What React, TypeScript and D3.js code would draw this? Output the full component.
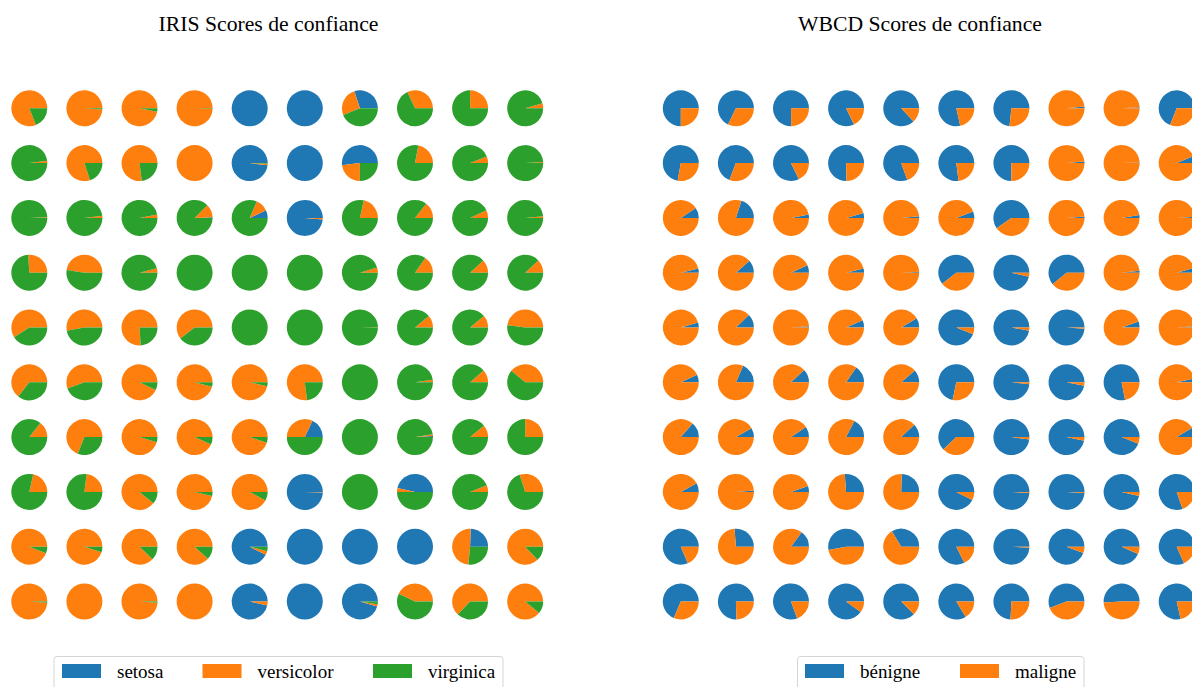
import React from 'react';
import { pie, arc, scaleLinear, scaleOrdinal, range } from 'd3';

const IRIS_CLASSES = ['setosa', 'versicolor', 'virginica'];
const WBCD_CLASSES = ['bénigne', 'maligne'];
const PALETTE = ['#1f77b4', '#ff7f0e', '#2ca02c'];

// confidence triplets [setosa, versicolor, virginica], one row per line of the grid
const irisScores: number[][][] = [
  [[0, 0.81, 0.19], [0, 0.99, 0.01], [0, 0.97, 0.03], [0, 0.995, 0.005], [1, 0, 0], [1, 0, 0], [0.3, 0.26, 0.44], [0, 0.32, 0.68], [0, 0.25, 0.75], [0, 0.045, 0.955]],
  [[0, 0.02, 0.98], [0, 0.8, 0.2], [0, 0.77, 0.23], [0, 1, 0], [0.98, 0.015, 0.005], [1, 0, 0], [0.52, 0.23, 0.25], [0, 0.22, 0.78], [0, 0.06, 0.94], [0, 0.01, 0.99]],
  [[0, 0.005, 0.995], [0, 0.02, 0.98], [0, 0.03, 0.97], [0.005, 0.12, 0.875], [0.07, 0.115, 0.815], [0.985, 0.015, 0], [0, 0.215, 0.785], [0, 0.143, 0.857], [0, 0.07, 0.93], [0, 0.015, 0.985]],
  [[0, 0.26, 0.74], [0, 0.475, 0.525], [0, 0.04, 0.96], [0, 0, 1], [0, 0, 1], [0, 0, 1], [0, 0.047, 0.953], [0, 0.153, 0.847], [0, 0.12, 0.88], [0, 0.12, 0.88]],
  [[0, 0.59, 0.41], [0, 0.53, 0.47], [0, 0.76, 0.24], [0, 0.605, 0.395], [0, 0, 1], [0, 0, 1], [0, 0.005, 0.995], [0, 0.11, 0.89], [0, 0.11, 0.89], [0, 0.48, 0.52]],
  [[0, 0.645, 0.355], [0, 0.555, 0.445], [0, 0.93, 0.07], [0, 0.96, 0.04], [0, 0.965, 0.035], [0, 0.77, 0.23], [0, 0, 1], [0.003, 0.02, 0.977], [0, 0.115, 0.885], [0, 0.39, 0.61]],
  [[0, 0.145, 0.855], [0, 0.69, 0.31], [0, 0.953, 0.047], [0, 0.933, 0.067], [0, 0.95, 0.05], [0.18, 0.32, 0.5], [0, 0, 1], [0.01, 0.015, 0.975], [0, 0.11, 0.89], [0, 0.25, 0.75]],
  [[0, 0.215, 0.785], [0, 0.23, 0.77], [0, 0.89, 0.11], [0, 0.964, 0.036], [0, 0.92, 0.08], [0.995, 0.005, 0], [0, 0, 1], [0.465, 0.035, 0.5], [0, 0.06, 0.94], [0, 0.3, 0.7]],
  [[0, 0.94, 0.06], [0, 0.95, 0.05], [0, 0.878, 0.122], [0, 0.883, 0.117], [0.925, 0.035, 0.04], [1, 0, 0], [1, 0, 0], [1, 0, 0], [0.245, 0.49, 0.265], [0, 0.87, 0.13]],
  [[0, 0.99, 0.01], [0, 1, 0], [0, 0.99, 0.01], [0, 1, 0], [0.965, 0.035, 0], [1, 0, 0], [0.955, 0.02, 0.025], [0, 0.43, 0.57], [0, 0.63, 0.37], [0, 0.89, 0.11]],
];

// benign score per sample (malign = 1 - benign)
const wbcdBenign: number[][] = [
  [0.75, 0.678, 0.752, 0.822, 0.87, 0.785, 0.733, 0.015, 0.01, 0.69],
  [0.722, 0.692, 0.822, 0.753, 0.805, 0.77, 0.75, 0.015, 0.005, 0.063],
  [0.094, 0.2, 0.03, 0.044, 0.015, 0.058, 0.597, 0.012, 0.025, 0.01],
  [0.038, 0.115, 0.067, 0.038, 0.008, 0.606, 0.964, 0.61, 0.018, 0.042],
  [0.045, 0.122, 0.012, 0.065, 0.085, 0.94, 0.972, 0.99, 0.053, 0.01],
  [0.07, 0.183, 0.12, 0.155, 0.114, 0.717, 0.982, 0.97, 0.781, 0.035],
  [0.136, 0.082, 0.094, 0.174, 0.12, 0.622, 0.979, 0.967, 0.939, 0.086],
  [0.079, 0.012, 0.053, 0.262, 0.245, 0.925, 0.99, 0.99, 0.964, 0.803],
  [0.814, 0.262, 0.15, 0.53, 0.337, 0.824, 0.99, 0.942, 0.933, 0.817],
  [0.686, 0.755, 0.806, 0.9, 0.875, 0.837, 0.742, 0.558, 0.508, 0.785],
];

const W = 1192;
const H = 687;
const R = 18;
const FONT = '"Liberation Serif", "Times New Roman", serif';

// matplotlib pies start at 3 o'clock and run counter-clockwise
const pieGen = pie<number>()
  .sort(null)
  .value((d) => d)
  .startAngle(Math.PI / 2)
  .endAngle(Math.PI / 2 - 2 * Math.PI);
const arcGen = arc<any>().innerRadius(0).outerRadius(R);

const color = scaleOrdinal<number, string>().domain([0, 1, 2]).range(PALETTE);
const yRow = scaleLinear().domain([0, 9]).range([108.3, 601.5]);

interface PanelProps {
  title: string;
  titleX: number;
  x0: number;
  rows: number[][][];
  classes: string[];
  legend: { left: number; width: number; gap: number[] };
}

const Panel: React.FC<PanelProps> = ({ title, titleX, x0, rows, classes, legend }) => {
  const xCol = scaleLinear().domain([0, 9]).range([x0, x0 + 9 * 55.1]);
  return (
    <g>
      <text x={titleX} y={31} textAnchor="middle" fontFamily={FONT} fontSize={21.7} fill="#000">
        {title}
      </text>
      {rows.map((row, r) =>
        row.map((vals, c) => (
          <g key={`${r}-${c}`} transform={`translate(${xCol(c)},${yRow(r)})`}>
            {pieGen(vals).map((s, i) =>
              s.value > 0 ? <path key={i} d={arcGen(s) || ''} fill={color(i)} /> : null
            )}
          </g>
        ))
      )}
      <rect
        x={legend.left}
        y={656.5}
        width={legend.width}
        height={45}
        rx={3}
        fill="#fff"
        fillOpacity={0.8}
        stroke="#d5d5d5"
        strokeWidth={1}
      />
      {classes.map((name, i) => (
        <g key={name} transform={`translate(${legend.gap[i]},0)`}>
          <rect x={0} y={664} width={39} height={14} fill={color(i)} />
          <text x={55} y={678} fontFamily={FONT} fontSize={19} fill="#000">
            {name}
          </text>
        </g>
      ))}
    </g>
  );
};

export default function App() {
  const wbcdRows = wbcdBenign.map((row) => row.map((b) => [b, 1 - b]));
  return (
    <svg
      width={W}
      height={H}
      style={{ position: 'absolute', left: 0, top: 0, background: '#fff' }}
    >
      <Panel
        title="IRIS Scores de confiance"
        titleX={268.5}
        x0={29.3}
        rows={irisScores}
        classes={IRIS_CLASSES}
        legend={{ left: 54, width: 449, gap: range(3).map((i) => [62, 202.5, 373][i]) }}
      />
      <Panel
        title="WBCD Scores de confiance"
        titleX={920}
        x0={680.8}
        rows={wbcdRows}
        classes={WBCD_CLASSES}
        legend={{ left: 797.5, width: 286.5, gap: [805, 960] }}
      />
    </svg>
  );
}
